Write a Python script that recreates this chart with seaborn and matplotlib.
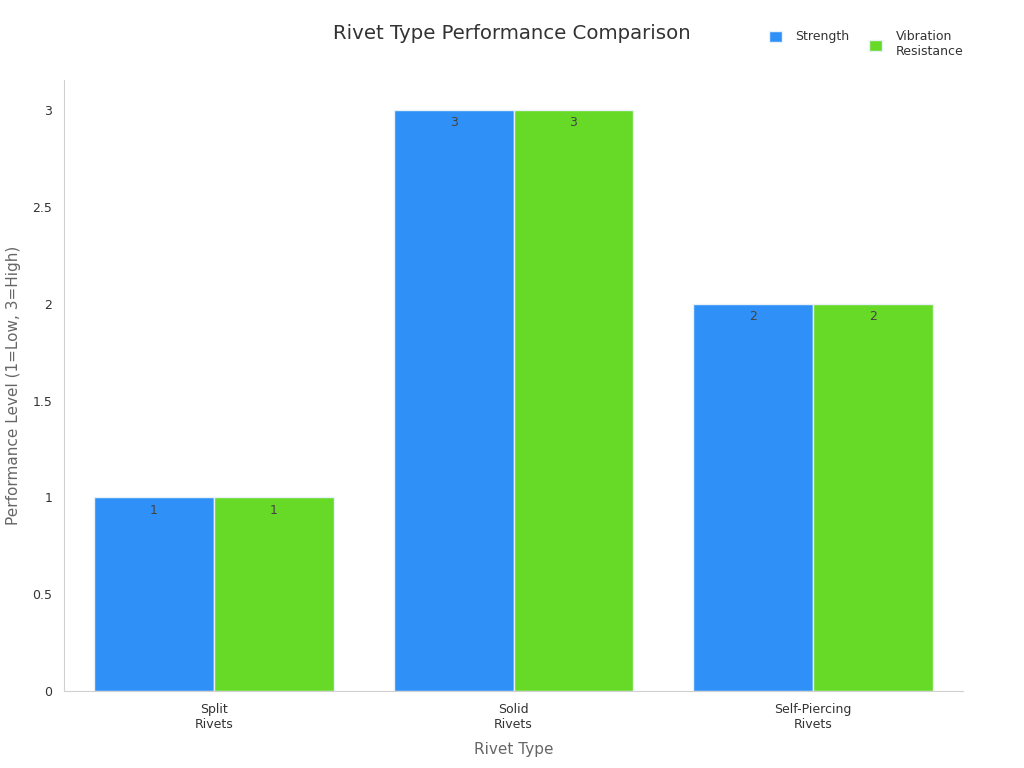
import pandas as pd
import matplotlib.pyplot as plt
import seaborn as sns

# Datos del gráfico
rivet_types = ['Split\nRivets', 'Solid\nRivets', 'Self-Piercing\nRivets']
strength = [1, 3, 2]
vibration = [1, 3, 2]
series_names = ['Strength', 'Vibration\nResistance']
colores = ['#2F91F7', '#66DA26']

df = pd.DataFrame({
    'Rivet Type': rivet_types * 2,
    'Level': strength + vibration,
    'Metric': [series_names[0]] * 3 + [series_names[1]] * 3,
})

sns.set_style('white')
plt.rcParams['font.family'] = ['DejaVu Sans']

fig = plt.figure(figsize=(10.24, 7.68), dpi=100)
ax = fig.add_axes([0.0625, 0.1003, 0.878, 0.7955])

sns.barplot(data=df, x='Rivet Type', y='Level', hue='Metric', palette=colores,
            saturation=1, width=0.8, edgecolor='#e8f0f8', linewidth=1, ax=ax)

for cont in ax.containers:
    ax.bar_label(cont, labels=[f'{v:g}' for v in cont.datavalues],
                 padding=-14, fontsize=9, color='#444444')

ax.set_xlim(-0.5, 2.5)
ax.set_ylim(0, 3.155)
ax.set_yticks([0, 0.5, 1, 1.5, 2, 2.5, 3])
ax.set_yticklabels(['0', '0.5', '1', '1.5', '2', '2.5', '3'])
ax.tick_params(axis='both', labelsize=9, colors='#333333', length=5, color='#cccccc')

for lado in ['top', 'right']:
    ax.spines[lado].set_visible(False)
for lado in ['left', 'bottom']:
    ax.spines[lado].set_color('#d0d0d0')

ax.set_xlabel('Rivet Type', fontsize=11, color='#666666', labelpad=8)
ax.set_ylabel('Performance Level (1=Low, 3=High)', fontsize=11, color='#666666', labelpad=8)

fig.text(0.5, 0.956, 'Rivet Type Performance Comparison', ha='center', va='center',
         fontsize=14.2, color='#333333')

# Leyenda: cada entrada por separado, alineadas arriba como en el original
handles, labels = ax.get_legend_handles_labels()
ax.get_legend().remove()
posiciones = [(0.740, 0.975), (0.838, 0.975)]
for h, lab, pos in zip(handles, labels, posiciones):
    fig.legend([h], [lab], loc='upper left', bbox_to_anchor=pos,
               frameon=False, fontsize=9, handlelength=1.0, handleheight=1.0,
               handletextpad=1.1, labelcolor='#333333')

plt.savefig('out.png', dpi=100)
